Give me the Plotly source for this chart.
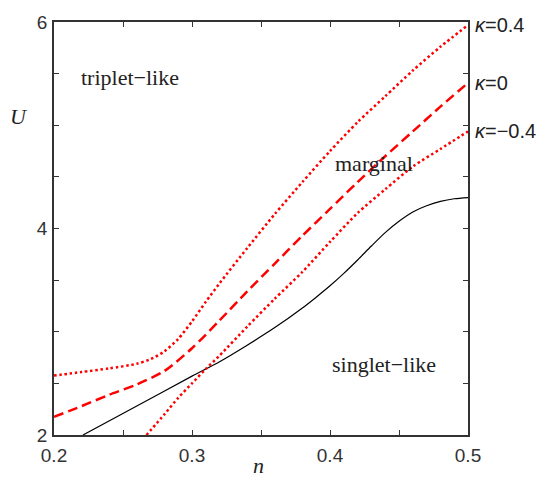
import plotly.graph_objects as go

# --- data ---
n_kp = [0.20, 0.22, 0.24, 0.26, 0.27, 0.28, 0.29, 0.30, 0.31, 0.32, 0.34, 0.36, 0.38, 0.40, 0.42, 0.44, 0.46, 0.48, 0.50]
U_kp = [2.575, 2.61, 2.645, 2.69, 2.735, 2.81, 2.93, 3.10, 3.29, 3.47, 3.81, 4.14, 4.45, 4.75, 5.03, 5.28, 5.53, 5.76, 5.97]

n_k0 = [0.20, 0.22, 0.24, 0.26, 0.28, 0.30, 0.32, 0.34, 0.36, 0.38, 0.40, 0.42, 0.44, 0.46, 0.48, 0.50]
U_k0 = [2.175, 2.28, 2.39, 2.49, 2.62, 2.84, 3.11, 3.39, 3.66, 3.93, 4.19, 4.45, 4.70, 4.94, 5.18, 5.41]

n_km = [0.267, 0.28, 0.29, 0.30, 0.31, 0.32, 0.34, 0.36, 0.38, 0.40, 0.42, 0.44, 0.46, 0.48, 0.50]
U_km = [2.00, 2.20, 2.36, 2.50, 2.64, 2.77, 3.05, 3.32, 3.58, 3.87, 4.15, 4.38, 4.60, 4.77, 4.94]

n_bl = [0.221, 0.26, 0.30, 0.32, 0.34, 0.36, 0.38, 0.39, 0.40, 0.41, 0.42, 0.43, 0.44, 0.45, 0.46, 0.47, 0.48, 0.49, 0.50]
U_bl = [2.00, 2.28, 2.57, 2.71, 2.87, 3.04, 3.23, 3.335, 3.445, 3.565, 3.695, 3.83, 3.96, 4.07, 4.16, 4.22, 4.262, 4.288, 4.30]

x_tickvals = [0.20, 0.25, 0.30, 0.35, 0.40, 0.45, 0.50]
x_ticktext = ["0.2", "", "0.3", "", "0.4", "", "0.5"]
y_tickvals = [2.0, 2.5, 3.0, 3.5, 4.0, 4.5, 5.0, 5.5, 6.0]
y_ticktext = ["2", "", "", "", "4", "", "", "", "6"]

kappa_labels = ["<i>κ</i>=0.4", "<i>κ</i>=0", "<i>κ</i>=−0.4"]
kappa_label_U = [U_kp[-1], U_k0[-1], U_km[-1]]

region_labels = ["triplet−like", "marginal", "singlet−like"]
region_n = [0.2552, 0.4317, 0.439]
region_U = [5.46, 4.63, 2.68]

RED = "#ff0000"

fig = go.Figure()
fig.add_trace(go.Scatter(x=n_bl, y=U_bl, mode="lines", line=dict(color="black", width=1.2, shape="spline", smoothing=0.8)))
fig.add_trace(go.Scatter(x=n_kp, y=U_kp, mode="lines", line=dict(color=RED, width=2.5, dash="2.5px,2.7px", shape="spline", smoothing=0.7)))
fig.add_trace(go.Scatter(x=n_k0, y=U_k0, mode="lines", line=dict(color=RED, width=2.5, dash="10px,5px", shape="spline", smoothing=0.7)))
fig.add_trace(go.Scatter(x=n_km, y=U_km, mode="lines", line=dict(color=RED, width=2.5, dash="2.5px,2.7px", shape="spline", smoothing=0.7)))

ann = []
for t, u in zip(kappa_labels, kappa_label_U):
    ann.append(dict(text=t, x=1.012, xref="paper", y=u, yref="y", xanchor="left", yanchor="middle",
                    showarrow=False, font=dict(family="Liberation Sans", size=20, color="#222")))
for t, xx, yy in zip(region_labels, region_n, region_U):
    ann.append(dict(text=t, x=xx, y=yy, xref="x", yref="y", xanchor="center", yanchor="middle",
                    showarrow=False, font=dict(family="Liberation Serif", size=22, color="#222")))
ann.append(dict(text="<i>U</i>", x=-0.085, y=0.772, xref="paper", yref="paper", xanchor="center", yanchor="middle",
                showarrow=False, font=dict(family="Liberation Serif", size=22, color="#222")))
ann.append(dict(text="<i>n</i>", x=0.493, y=-0.073, xref="paper", yref="paper", xanchor="center", yanchor="middle",
                showarrow=False, font=dict(family="Liberation Serif", size=22, color="#222")))

axis_common = dict(showgrid=False, zeroline=False, showline=True, linecolor="#333", linewidth=1.5,
                   mirror="ticks", ticks="inside", ticklen=5, tickwidth=1, tickcolor="#333",
                   tickfont=dict(family="Liberation Sans", size=19, color="#333"))

fig.update_layout(
    width=554, height=485,
    margin=dict(l=54, r=86, t=20, b=50),
    paper_bgcolor="white", plot_bgcolor="white",
    showlegend=False,
    hovermode=False,
    xaxis=dict(range=[0.2, 0.5], tickvals=x_tickvals, ticktext=x_ticktext, **axis_common),
    yaxis=dict(range=[2, 6], tickvals=y_tickvals, ticktext=y_ticktext, **axis_common),
    annotations=ann,
)
fig.update_xaxes(ticklabelstandoff=2)
fig.update_yaxes(ticklabelstandoff=1)

# remove the browser's default 8px body margin so the figure sits at (0, 0)
fig.write_html("out.html", config={"displayModeBar": False},
               post_script="document.body.style.margin='0px';")
